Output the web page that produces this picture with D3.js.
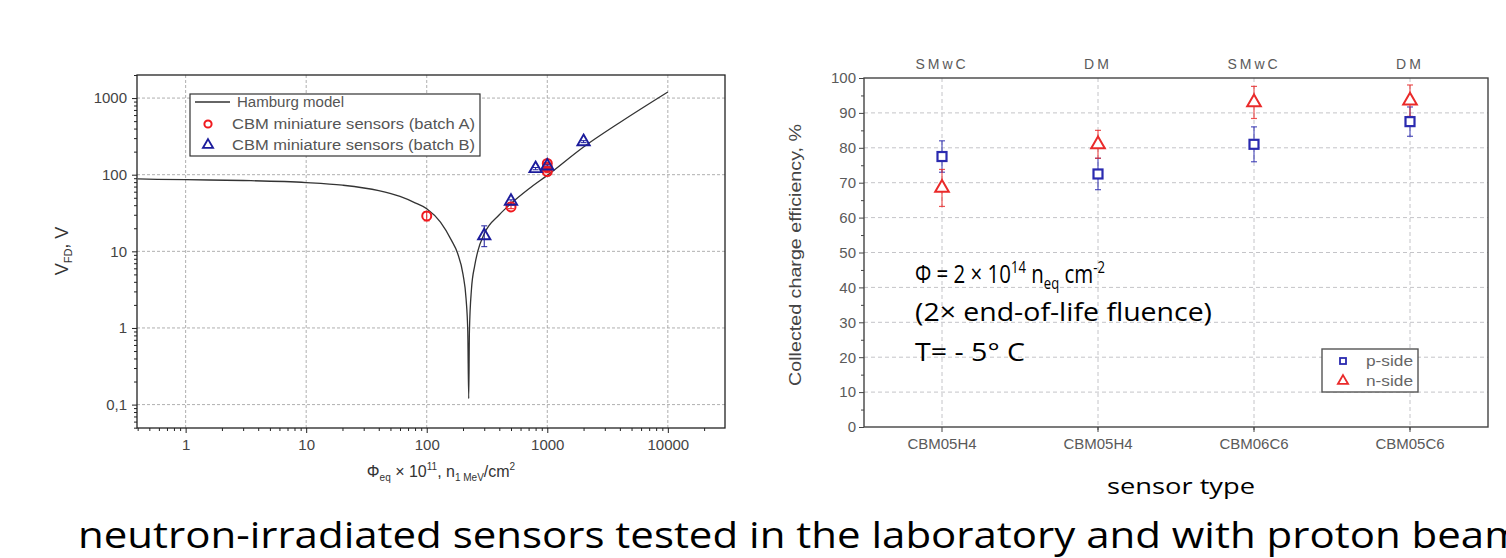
<!DOCTYPE html>
<html>
<head>
<meta charset="utf-8">
<script src="https://cdnjs.cloudflare.com/ajax/libs/d3/7.8.5/d3.min.js"></script>
<style>
body { margin: 0; background: #fff; }
svg { display: block; }
.axis text { font-family: 'Liberation Sans', Arial, sans-serif; }
</style>
</head>
<body>
<svg width="1506" height="558"></svg>
<script>
// ---- left chart data: full depletion voltage vs fluence ----
var fluenceTicks = [1, 10, 100, 1000, 10000];
var fluenceTickLabels = ['1', '10', '100', '1000', '10000'];
var voltageTicks = [0.1, 1, 10, 100, 1000];
var voltageTickLabels = ['0,1', '1', '10', '100', '1000'];

// Hamburg model curve
var hamburgFluence = [0.4, 1, 3, 10, 20, 40, 60, 80, 100, 130, 160, 180, 200, 212, 219, 223, 226, 235, 250, 265, 300, 400, 500, 700, 1000, 2000, 4000, 10000];
var hamburgVoltage = [88, 86, 84, 79, 73, 62, 52, 43, 36, 24, 14, 9.5, 5, 2.4, 0.9, 0.12, 0.9, 3.2, 6.5, 10, 17, 30, 42, 65, 98, 230, 480, 1200];

var batchAFluence = [100, 500, 1000, 1000, 1000];
var batchAVoltage = [29, 38, 110, 125, 140];
var batchALow = [25, 36, 106, 121, 136];
var batchAHigh = [33, 40, 114, 129, 144];

var batchBFluence = [300, 500, 800, 1000, 2000];
var batchBVoltage = [16, 45, 120, 130, 270];
var batchBLow = [11.5, 43, 116, 126, 262];
var batchBHigh = [21.5, 47, 124, 134, 278];

// ---- right chart data: collected charge efficiency ----
var sensorTypes = ['CBM05H4', 'CBM05H4', 'CBM06C6', 'CBM05C6'];
var sensorDesigns = ['SMwC', 'DM', 'SMwC', 'DM'];
var pSide = [77.5, 72.5, 81, 87.5];
var pSideErr = [4.5, 4.5, 5, 4.2];
var nSide = [68.5, 81, 93, 93.5];
var nSideErr = [5.3, 4, 4.6, 4.5];
var efficiencyTicks = [0, 10, 20, 30, 40, 50, 60, 70, 80, 90, 100];

var RED = '#f0191e';
var BLUE = '#1c1c9c';
var BLUE2 = '#2a2ab0';
var RED2 = '#ea2a2a';

var svg = d3.select('svg');

// ============ LEFT CHART ============
var L = {l: 137, r: 725, t: 75, b: 428};
var xL = d3.scaleLog().domain([0.395, 29800]).range([L.l, L.r]);
var yL = d3.scaleLog().domain([0.0495, 2000]).range([L.b, L.t]);

var leftG = svg.append('g');

// minor ticks for log axes (2..9 in each decade)
function logMinor(domain) {
    var out = [];
    for (var e = -2; e <= 5; e++) {
        for (var k = 2; k <= 9; k++) {
            var v = k * Math.pow(10, e);
            if (v >= domain[0] && v <= domain[1]) out.push(v);
        }
    }
    return out;
}

// dashed grid
leftG.selectAll('.gx').data(fluenceTicks).enter().append('line')
    .attr('x1', function(d) { return xL(d); }).attr('x2', function(d) { return xL(d); })
    .attr('y1', L.t).attr('y2', L.b)
    .attr('stroke', '#9a9a9a').attr('stroke-width', 0.8).attr('stroke-dasharray', '3,2');
leftG.selectAll('.gy').data(voltageTicks).enter().append('line')
    .attr('x1', L.l).attr('x2', L.r)
    .attr('y1', function(d) { return yL(d); }).attr('y2', function(d) { return yL(d); })
    .attr('stroke', '#9a9a9a').attr('stroke-width', 0.8).attr('stroke-dasharray', '3,2');

// axes
leftG.append('g').attr('class', 'axis')
    .attr('transform', 'translate(0,' + L.b + ')')
    .call(d3.axisBottom(xL).tickValues(fluenceTicks)
        .tickFormat(function(d, i) { return fluenceTickLabels[i]; })
        .tickSizeOuter(0).tickSize(5).tickPadding(6));
leftG.append('g').attr('class', 'axis minor')
    .attr('transform', 'translate(0,' + L.b + ')')
    .call(d3.axisBottom(xL).tickValues(logMinor(xL.domain())).tickFormat('').tickSize(3).tickSizeOuter(0));

leftG.append('g').attr('class', 'axis')
    .attr('transform', 'translate(' + L.l + ',0)')
    .call(d3.axisLeft(yL).tickValues(voltageTicks)
        .tickFormat(function(d, i) { return voltageTickLabels[i]; })
        .tickSizeOuter(0).tickSize(5).tickPadding(5));
leftG.append('g').attr('class', 'axis minor')
    .attr('transform', 'translate(' + L.l + ',0)')
    .call(d3.axisLeft(yL).tickValues(logMinor(yL.domain())).tickFormat('').tickSize(3).tickSizeOuter(0));

leftG.selectAll('.axis path.domain').remove();
leftG.selectAll('.axis line').attr('stroke', '#222');
leftG.selectAll('.axis text').attr('font-size', 15).attr('fill', '#444');

// frame
leftG.append('rect')
    .attr('x', L.l).attr('y', L.t).attr('width', L.r - L.l).attr('height', L.b - L.t)
    .attr('fill', 'none').attr('stroke', '#222').attr('stroke-width', 1.3);

// Hamburg model line
var hamburg = hamburgFluence.map(function(f, i) { return [f, hamburgVoltage[i]]; });
var line = d3.line()
    .x(function(d) { return xL(d[0]); })
    .y(function(d) { return yL(d[1]); })
    .curve(d3.curveMonotoneX);
leftG.append('path').datum(hamburg)
    .attr('d', line).attr('fill', 'none').attr('stroke', '#333').attr('stroke-width', 1.3);

// error bars
function errBars(g, xs, lo, hi, color) {
    xs.forEach(function(f, i) {
        var x = xL(f);
        g.append('line').attr('x1', x).attr('x2', x).attr('y1', yL(lo[i])).attr('y2', yL(hi[i]))
            .attr('stroke', color).attr('stroke-width', 1);
        [lo[i], hi[i]].forEach(function(v) {
            g.append('line').attr('x1', x - 3).attr('x2', x + 3).attr('y1', yL(v)).attr('y2', yL(v))
                .attr('stroke', color).attr('stroke-width', 1);
        });
    });
}
errBars(leftG, batchAFluence, batchALow, batchAHigh, RED);
errBars(leftG, batchBFluence, batchBLow, batchBHigh, BLUE);

leftG.selectAll('.ptA').data(batchAFluence).enter().append('circle')
    .attr('cx', function(d) { return xL(d); })
    .attr('cy', function(d, i) { return yL(batchAVoltage[i]); })
    .attr('r', 4.5).attr('fill', 'none').attr('stroke', RED).attr('stroke-width', 2);

var tri = d3.symbol().type(d3.symbolTriangle).size(65);
leftG.selectAll('.ptB').data(batchBFluence).enter().append('path')
    .attr('d', tri)
    .attr('transform', function(d, i) { return 'translate(' + xL(d) + ',' + yL(batchBVoltage[i]) + ')'; })
    .attr('fill', 'none').attr('stroke', BLUE).attr('stroke-width', 1.9);

// legend
var legL = leftG.append('g');
legL.append('rect').attr('x', 190).attr('y', 94).attr('width', 290).attr('height', 62)
    .attr('fill', '#fff').attr('stroke', '#333').attr('stroke-width', 1.2);
legL.append('line').attr('x1', 195).attr('x2', 230).attr('y1', 102).attr('y2', 102)
    .attr('stroke', '#333').attr('stroke-width', 1.3);
legL.append('circle').attr('cx', 208).attr('cy', 124).attr('r', 3.6)
    .attr('fill', 'none').attr('stroke', RED).attr('stroke-width', 2);
legL.append('path').attr('d', d3.symbol().type(d3.symbolTriangle).size(45))
    .attr('transform', 'translate(208,145)')
    .attr('fill', 'none').attr('stroke', BLUE).attr('stroke-width', 1.8);
var legTexts = [['Hamburg model', 237, 107, 107], ['CBM miniature sensors (batch A)', 232, 129, 243], ['CBM miniature sensors (batch B)', 232, 150, 243]];
legTexts.forEach(function(t) {
    legL.append('text').attr('x', t[1]).attr('y', t[2])
        .attr('font-family', "'Liberation Sans', Arial, sans-serif").attr('font-size', 15.5)
        .attr('fill', '#555').attr('textLength', t[3]).attr('lengthAdjust', 'spacingAndGlyphs')
        .text(t[0]);
});

// axis titles
var yTitleL = leftG.append('text')
    .attr('transform', 'translate(68,251) rotate(-90)')
    .attr('text-anchor', 'middle')
    .attr('font-family', "'Liberation Sans', Arial, sans-serif").attr('font-size', 18).attr('fill', '#333');
yTitleL.append('tspan').text('V');
yTitleL.append('tspan').attr('font-size', 11).attr('dy', 4).text('FD');
yTitleL.append('tspan').attr('dy', -4).text(', V');

var xTitleL = leftG.append('text')
    .attr('x', 441).attr('y', 477).attr('text-anchor', 'middle')
    .attr('font-family', "'Liberation Sans', Arial, sans-serif").attr('font-size', 16).attr('fill', '#333');
xTitleL.append('tspan').text('\u03A6');
xTitleL.append('tspan').attr('font-size', 10).attr('dy', 4).text('eq');
xTitleL.append('tspan').attr('dy', -4).text(' \u00D7 10');
xTitleL.append('tspan').attr('font-size', 10).attr('dy', -7).text('11');
xTitleL.append('tspan').attr('dy', 7).text(', n');
xTitleL.append('tspan').attr('font-size', 10).attr('dy', 4).text('1 MeV');
xTitleL.append('tspan').attr('dy', -4).text('/cm');
xTitleL.append('tspan').attr('font-size', 10).attr('dy', -7).text('2');

// ============ RIGHT CHART ============
var R = {l: 864, r: 1488, t: 78, b: 427};
var xR = d3.scaleBand().domain(d3.range(sensorTypes.length)).range([R.l, R.r]);
var yR = d3.scaleLinear().domain([0, 100]).range([R.b, R.t]);
function cx(i) { return xR(i) + xR.bandwidth() / 2; }

var rightG = svg.append('g');

// grid
rightG.selectAll('.gh').data(efficiencyTicks.slice(1, -1)).enter().append('line')
    .attr('x1', R.l).attr('x2', R.r)
    .attr('y1', function(d) { return yR(d); }).attr('y2', function(d) { return yR(d); })
    .attr('stroke', '#c4c4c8').attr('stroke-width', 1).attr('stroke-dasharray', '4,3');
rightG.selectAll('.gv').data(d3.range(sensorTypes.length)).enter().append('line')
    .attr('x1', cx).attr('x2', cx).attr('y1', R.t).attr('y2', R.b)
    .attr('stroke', '#c4c4c8').attr('stroke-width', 1).attr('stroke-dasharray', '4,3');

// axes
rightG.append('g').attr('class', 'axis')
    .attr('transform', 'translate(' + R.l + ',0)')
    .call(d3.axisLeft(yR).tickValues(efficiencyTicks).tickFormat(d3.format('d'))
        .tickSize(5).tickSizeOuter(0).tickPadding(3));
rightG.append('g').attr('class', 'axis minor')
    .attr('transform', 'translate(' + R.l + ',0)')
    .call(d3.axisLeft(yR).tickValues(d3.range(5, 100, 10)).tickFormat('').tickSize(3).tickSizeOuter(0));
rightG.append('g').attr('class', 'axis')
    .attr('transform', 'translate(0,' + R.b + ')')
    .call(d3.axisBottom(xR).tickFormat(function(i) { return sensorTypes[i]; })
        .tickSize(5).tickSizeOuter(0).tickPadding(6));
rightG.append('g').attr('class', 'axis minor')
    .attr('transform', 'translate(0,' + R.b + ')')
    .call(d3.axisBottom(xR).tickValues([1, 2, 3]).tickFormat('').tickSize(3).tickSizeOuter(0)
        .offset(-xR.bandwidth() / 2));
rightG.append('g').attr('class', 'axis top')
    .attr('transform', 'translate(0,' + R.t + ')')
    .call(d3.axisTop(xR).tickFormat(function(i) { return sensorDesigns[i]; })
        .tickSize(0).tickPadding(9));

rightG.selectAll('.axis path.domain').remove();
rightG.selectAll('.axis line').attr('stroke', '#444');
rightG.selectAll('.axis text').attr('font-size', 15).attr('fill', '#5a5a5a');
rightG.selectAll('.axis.top text').attr('font-size', 14).attr('letter-spacing', 3);

rightG.append('rect')
    .attr('x', R.l).attr('y', R.t).attr('width', R.r - R.l).attr('height', R.b - R.t)
    .attr('fill', 'none').attr('stroke', '#444').attr('stroke-width', 1.4);

// error bars + markers
function errR(vals, errs, color) {
    vals.forEach(function(v, i) {
        var x = cx(i);
        rightG.append('line').attr('x1', x).attr('x2', x).attr('y1', yR(v - errs[i])).attr('y2', yR(v + errs[i]))
            .attr('stroke', color).attr('stroke-width', 1.2).attr('opacity', 0.8);
        [v - errs[i], v + errs[i]].forEach(function(e) {
            rightG.append('line').attr('x1', x - 3).attr('x2', x + 3).attr('y1', yR(e)).attr('y2', yR(e))
                .attr('stroke', color).attr('stroke-width', 1.2).attr('opacity', 0.8);
        });
    });
}
errR(pSide, pSideErr, BLUE2);
errR(nSide, nSideErr, RED2);

rightG.selectAll('.sq').data(pSide).enter().append('rect')
    .attr('x', function(d, i) { return cx(i) - 4.5; })
    .attr('y', function(d) { return yR(d) - 4.5; })
    .attr('width', 9).attr('height', 9)
    .attr('fill', '#fff').attr('stroke', BLUE2).attr('stroke-width', 2.2);
rightG.selectAll('.tr').data(nSide).enter().append('path')
    .attr('d', d3.symbol().type(d3.symbolTriangle).size(80))
    .attr('transform', function(d, i) { return 'translate(' + cx(i) + ',' + yR(d) + ')'; })
    .attr('fill', '#fff').attr('stroke', RED2).attr('stroke-width', 2);

// legend
var legR = rightG.append('g');
legR.append('rect').attr('x', 1322).attr('y', 349).attr('width', 96).attr('height', 43)
    .attr('fill', '#fff').attr('stroke', '#555').attr('stroke-width', 1.4);
legR.append('rect').attr('x', 1340).attr('y', 358).attr('width', 6).attr('height', 6)
    .attr('fill', 'none').attr('stroke', BLUE2).attr('stroke-width', 1.8);
legR.append('path').attr('d', d3.symbol().type(d3.symbolTriangle).size(45))
    .attr('transform', 'translate(1343,381)')
    .attr('fill', 'none').attr('stroke', RED2).attr('stroke-width', 1.8);
legR.append('text').attr('x', 1366).attr('y', 366).text('p-side');
legR.append('text').attr('x', 1366).attr('y', 386).text('n-side');
legR.selectAll('text').attr('font-family', "'Liberation Sans', Arial, sans-serif")
    .attr('font-size', 15).attr('fill', '#666').attr('textLength', 47).attr('lengthAdjust', 'spacingAndGlyphs');

// y title
rightG.append('text')
    .attr('transform', 'translate(801,255) rotate(-90)')
    .attr('text-anchor', 'middle')
    .attr('font-family', "'Liberation Sans', Arial, sans-serif").attr('font-size', 17)
    .attr('fill', '#444').attr('textLength', 262).attr('lengthAdjust', 'spacingAndGlyphs')
    .text('Collected charge efficiency, %');

// annotation
var note = svg.append('g').attr('font-family', "'Open Sans', 'Noto Sans', sans-serif").attr('fill', '#000');
var n1 = note.append('text').attr('x', 915).attr('y', 283).attr('font-size', 25);
n1.append('tspan').text('\u03A6 = 2 \u00D7 10');
n1.append('tspan').attr('font-size', 16).attr('dy', -10).text('14');
n1.append('tspan').attr('dy', 10).text(' n');
n1.append('tspan').attr('font-size', 16).attr('dy', 6).text('eq');
n1.append('tspan').attr('dy', -6).text(' cm');
n1.append('tspan').attr('font-size', 16).attr('dy', -10).text('-2');
note.append('text').attr('x', 915).attr('y', 321).attr('font-size', 25)
    .attr('textLength', 297).attr('lengthAdjust', 'spacingAndGlyphs').text('(2\u00D7 end-of-life fluence)');
note.append('text').attr('x', 915).attr('y', 361).attr('font-size', 25)
    .attr('textLength', 110).attr('lengthAdjust', 'spacingAndGlyphs').text('T= - 5\u00B0 C');
// squeeze the first line the same way
var w1 = n1.node().getComputedTextLength();
n1.attr('transform', 'translate(915,0) scale(' + (190 / w1) + ',1) translate(-915,0)');

svg.append('text').attr('x', 1181).attr('y', 494).attr('text-anchor', 'middle')
    .attr('font-family', "'Open Sans', 'Noto Sans', sans-serif").attr('font-size', 22)
    .attr('textLength', 148).attr('lengthAdjust', 'spacingAndGlyphs')
    .text('sensor type');

// caption
svg.append('text').attr('x', 78).attr('y', 548)
    .attr('font-family', "'Open Sans', 'Noto Sans', sans-serif").attr('font-size', 37)
    .attr('textLength', 1445).attr('lengthAdjust', 'spacingAndGlyphs')
    .text('neutron-irradiated sensors tested in the laboratory and with proton beam');
</script>
</body>
</html>
